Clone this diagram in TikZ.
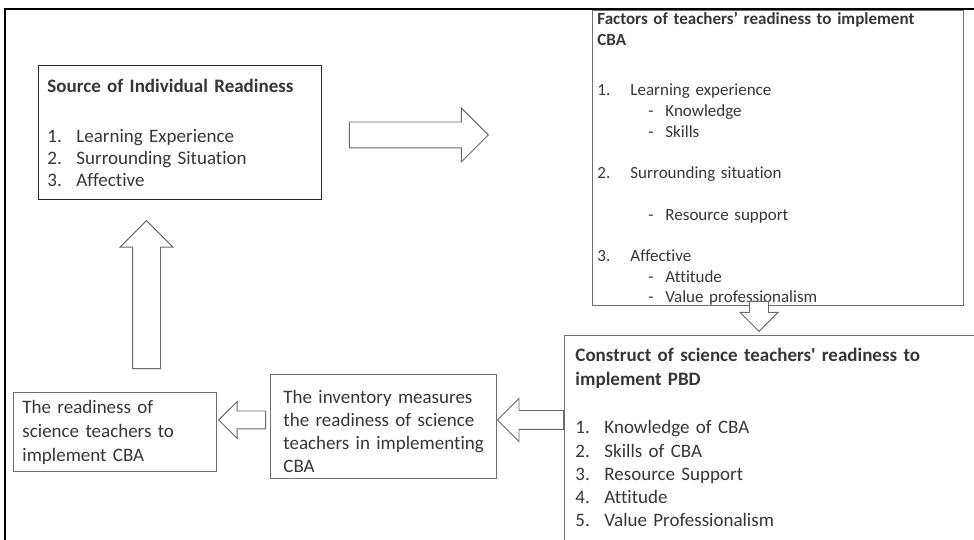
\documentclass[tikz,border=0pt]{standalone}
\usepackage{fontspec}
\setmainfont{Carlito}[Ligatures=NoCommon]
\usepackage{xcolor}
\usetikzlibrary{positioning, shapes.arrows}

\definecolor{inkgray}{HTML}{363636}
\definecolor{boxgray}{HTML}{707070}
\definecolor{arrowgray}{HTML}{6A6A6A}

\newcommand{\numitem}[3][29pt]{\makebox[#1][l]{#2}#3}
\newcommand{\dashitem}[1]{\hspace*{51pt}\makebox[17pt][l]{-}#1}

\begin{document}
\begin{tikzpicture}[x=1pt, y=1pt,
    box/.style={rectangle, draw=boxgray, line width=0.9pt, anchor=north west,
        align=left, text=inkgray, inner ysep=0pt},
    bodyfont/.style={font=\fontsize{19}{23}\selectfont},
    smallfont/.style={font=\fontsize{17}{20.7}\selectfont},
    blockarrow/.style={single arrow, draw=arrowgray, line width=0.9pt, fill=white,
        single arrow head indent=0pt, inner xsep=0pt, anchor=tip}
  ]

    \useasboundingbox (0,0) rectangle (974,540);
    \clip (0,0) rectangle (974,540);

    % boxes
    \node[box, draw=black!85, bodyfont, minimum width=283pt, minimum height=134pt,
          text width=265pt, inner xsep=9pt] (source) at (38,475) {%
      \textbf{Source of Individual Readiness}\\[27pt]
      \numitem{1.}{Learning Experience}\\[-1pt]
      \numitem{2.}{Surrounding Situation}\\[-1pt]
      \numitem{3.}{Affective}};

    \node[box, smallfont, minimum width=371pt, minimum height=292pt,
          text width=361pt, inner xsep=5pt] (factors) at (592,530) {%
      {\bfseries\rule{0pt}{14pt}Factors of teachers’ readiness to implement\\ CBA}\\[30pt]
      \numitem[33pt]{1.}{Learning experience}\\
      \dashitem{Knowledge}\\
      \dashitem{Skills}\\[20.7pt]
      \numitem[33pt]{2.}{Surrounding situation}\\[20.7pt]
      \dashitem{Resource support}\\[20.7pt]
      \numitem[33pt]{3.}{Affective}\\
      \dashitem{Attitude}\\
      \dashitem{Value professionalism}};

    \node[box, bodyfont, text width=410pt, inner xsep=11pt, inner ysep=13pt]
          (construct) at (564,205) {%
      {\bfseries Construct of science teachers\textquotesingle\ readiness to\\[1pt] implement PBD}\\[25pt]
      \numitem{1.}{Knowledge of CBA}\\[0.3pt]
      \numitem{2.}{Skills of CBA}\\[0.3pt]
      \numitem{3.}{Resource Support}\\[0.3pt]
      \numitem{4.}{Attitude}\\[0.3pt]
      \numitem{5.}{Value Professionalism}\rule[-60pt]{0pt}{60pt}};

    \node[box, bodyfont, minimum width=203pt, minimum height=79pt,
          text width=185pt, inner xsep=9pt] (readiness) at (13,148) {%
      The readiness of\\[1pt] science teachers to\\[1pt] implement CBA};

    \node[box, bodyfont, minimum width=226pt, minimum height=104pt,
          text width=208pt, inner xsep=9pt] (inventory) at (270,166) {%
      \hspace*{4pt}\rule{0pt}{23pt}The inventory measures\\
      \hspace*{4pt}the readiness of science\\
      \hspace*{4pt}teachers in implementing\\
      \hspace*{4pt}CBA};

    % block arrows
    \node[blockarrow, minimum height=139pt, inner ysep=12.5pt,
          single arrow head extend=14pt] (toFactors) at (489,405) {};
    \node[blockarrow, rotate=90, minimum height=148pt, inner ysep=13.5pt,
          single arrow head extend=12.5pt] (toSource) at (146.5,320) {};
    \node[blockarrow, rotate=-90, minimum height=30pt, inner ysep=9pt,
          single arrow head extend=9.5pt] (toConstruct) at (759,208) {};
    \node[blockarrow, rotate=180, minimum height=66pt, inner ysep=9pt,
          single arrow head extend=12pt] (toInventory) at (inventory.east |- 0,120) {};
    \node[blockarrow, rotate=180, minimum height=47pt, inner ysep=8.5pt,
          single arrow head extend=9.5pt] (toReadiness) at (218,120) {};

    % outer frame
    \draw[line width=2pt, black] (5,-10) -- (5,531) -- (990,531);

\end{tikzpicture}
\end{document}
